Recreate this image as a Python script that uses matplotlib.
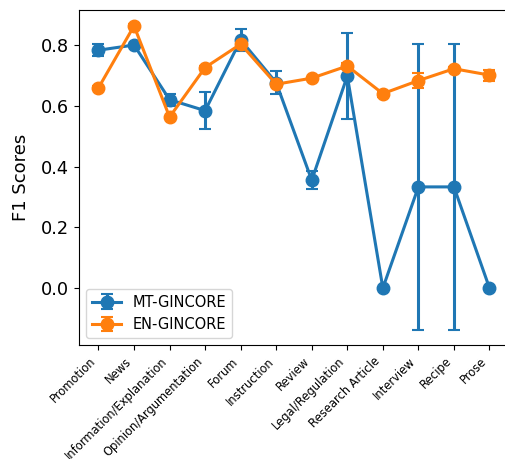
import matplotlib
matplotlib.use("Agg")
import matplotlib.pyplot as plt
import numpy as np

# Genres on the x axis
genres = ["Promotion", "News", "Information/Explanation", "Opinion/Argumentation",
          "Forum", "Instruction", "Review", "Legal/Regulation", "Research Article",
          "Interview", "Recipe", "Prose"]

# MT-GINCORE: mean F1 and error
mt_f1 = [0.783, 0.800, 0.620, 0.584, 0.817, 0.676, 0.355, 0.698, 0.0, 0.333, 0.333, 0.0]
mt_err = [0.020, 0.005, 0.020, 0.060, 0.036, 0.038, 0.030, 0.140, 0.0, 0.470, 0.470, 0.0]

# EN-GINCORE: mean F1 and error
en_f1 = [0.659, 0.863, 0.563, 0.726, 0.803, 0.671, 0.691, 0.731, 0.640, 0.683, 0.722, 0.701]
en_err = [0.005, 0.005, 0.005, 0.005, 0.010, 0.005, 0.005, 0.010, 0.010, 0.025, 0.005, 0.018]

fig = plt.figure(figsize=(5.06, 4.59), dpi=100)
ax = fig.add_axes([0.156, 0.248, 0.85, 0.73])

x = np.arange(len(genres))
ax.errorbar(x, mt_f1, yerr=mt_err, fmt="-o", color="#1f77b4", lw=2.2,
            markersize=9, capsize=4.5, elinewidth=2.2, capthick=1.5, label="MT-GINCORE")
ax.errorbar(x, en_f1, yerr=en_err, fmt="-o", color="#ff7f0e", lw=2.2,
            markersize=9, capsize=4.5, elinewidth=2.2, capthick=1.5, label="EN-GINCORE")

ax.set_ylim(-0.188, 0.915)
ax.set_xticks(x)
ax.set_xticklabels(genres, rotation=45, ha="right", fontsize=8.3)
ax.set_yticks([0.0, 0.2, 0.4, 0.6, 0.8])
ax.tick_params(axis="y", labelsize=12.8)
ax.set_ylabel("F1 Scores", fontsize=13, labelpad=8)
ax.legend(loc="lower left", fontsize=10.5)

fig.savefig("out.png", dpi=100)
